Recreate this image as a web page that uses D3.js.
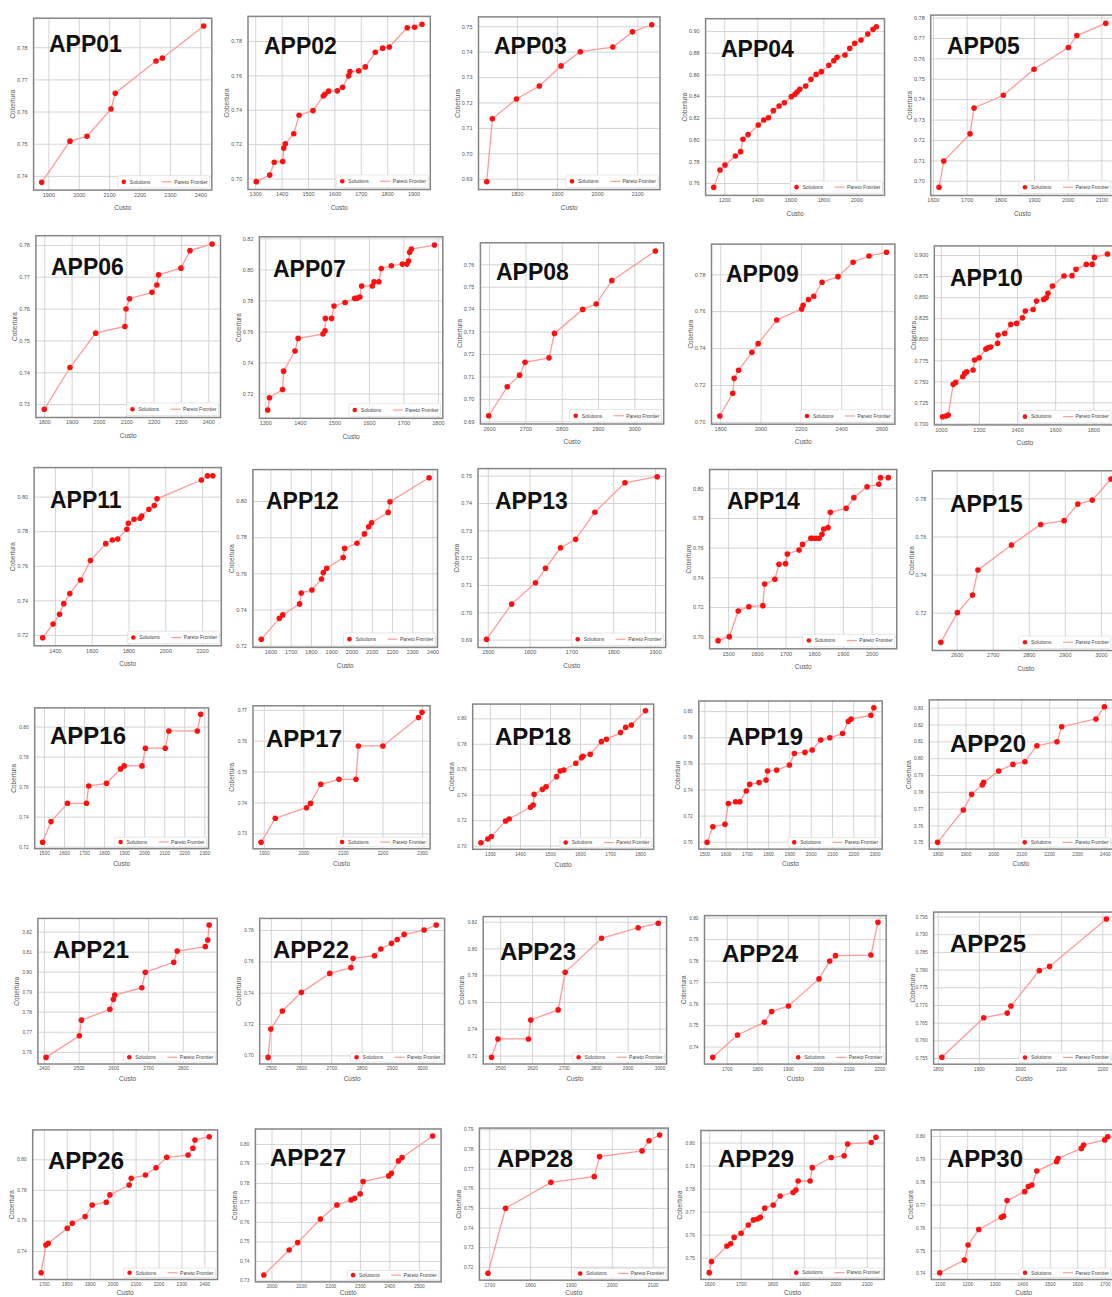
<!DOCTYPE html>
<html>
<head>
<meta charset="utf-8">
<script src="https://cdn.jsdelivr.net/npm/d3@7"></script>
<style>
  body { margin: 0; background: #ffffff; }
  svg { display: block; }
</style>
</head>
<body>
<svg id="chart" width="1112" height="1297"></svg>
<script>
// ---- Data: one Pareto front per application (Custo vs Cobertura) ----
const panelNames = [
  "APP01","APP02","APP03","APP04","APP05","APP06","APP07","APP08","APP09","APP10",
  "APP11","APP12","APP13","APP14","APP15","APP16","APP17","APP18","APP19","APP20",
  "APP21","APP22","APP23","APP24","APP25","APP26","APP27","APP28","APP29","APP30"
];

const custoValues = [
  [1878,1971,2027,2106,2120,2254,2275,2411],
  [1304,1355,1372,1404,1408,1414,1446,1466,1519,1558,1564,1578,1611,1631,1654,1659,1692,1717,1755,1783,1808,1876,1904,1932],
  [1725,1739,1799,1856,1910,1958,2039,2088,2136],
  [1136,1174,1204,1267,1299,1313,1344,1406,1439,1467,1497,1532,1564,1606,1628,1641,1657,1693,1725,1756,1788,1833,1863,1883,1931,1960,1990,2028,2069,2101,2121],
  [1618,1632,1710,1722,1809,1900,2002,2027,2113],
  [1800,1894,1988,2095,2099,2112,2194,2212,2218,2300,2333,2414],
  [1307,1312,1350,1353,1386,1395,1467,1473,1474,1492,1499,1531,1559,1567,1574,1579,1610,1615,1629,1636,1665,1697,1710,1715,1718,1723,1790],
  [2599,2650,2684,2699,2765,2780,2858,2895,2938,3058],
  [1798,1862,1869,1891,1957,1988,2080,2204,2211,2238,2264,2305,2384,2459,2538,2625],
  [1009,1028,1039,1065,1078,1115,1125,1136,1169,1177,1201,1236,1247,1261,1298,1300,1335,1367,1398,1428,1443,1484,1502,1540,1553,1562,1586,1646,1688,1709,1763,1794,1806,1874],
  [1333,1390,1425,1448,1481,1539,1593,1676,1712,1741,1791,1799,1830,1863,1872,1911,1940,1955,2196,2229,2258],
  [1555,1644,1661,1744,1752,1805,1852,1861,1878,1959,1966,2027,2064,2085,2099,2181,2190,2383],
  [1497,1557,1614,1638,1674,1710,1756,1828,1905],
  [1465,1504,1535,1572,1621,1627,1663,1677,1700,1706,1747,1759,1788,1794,1806,1817,1827,1833,1848,1856,1911,1938,1984,2025,2031,2058],
  [2556,2602,2644,2659,2752,2833,2898,2936,2976,3028],
  [1493,1535,1617,1712,1723,1812,1882,1900,1989,2006,2105,2123,2265,2282],
  [1893,1929,2008,2018,2044,2090,2133,2139,2201,2291,2300],
  [1270,1293,1305,1352,1364,1435,1444,1447,1475,1487,1522,1534,1546,1586,1605,1610,1634,1671,1688,1735,1752,1771,1818],
  [1513,1540,1597,1613,1647,1667,1697,1713,1757,1790,1797,1840,1900,1923,1973,2007,2047,2090,2150,2177,2190,2283,2297],
  [1800,1892,1922,1960,1965,2019,2070,2113,2156,2228,2245,2368,2398],
  [2406,2502,2508,2590,2600,2604,2682,2692,2774,2784,2865,2872,2876],
  [2491,2500,2538,2601,2695,2765,2772,2843,2864,2899,2918,2941,3007,3047],
  [2473,2493,2589,2596,2682,2704,2818,2933,2996],
  [1654,1735,1823,1847,1902,2002,2037,2056,2172,2195],
  [1810,1912,1969,1978,2047,2072,2210],
  [1688,1709,1719,1802,1824,1880,1911,1972,1988,2072,2081,2143,2189,2236,2329,2350,2359,2421],
  [1974,2060,2089,2166,2222,2270,2282,2301,2311,2398,2407,2431,2443,2547],
  [1697,1740,1851,1957,1970,2074,2091,2117],
  [1600,1607,1656,1668,1679,1701,1724,1740,1753,1762,1776,1803,1825,1866,1875,1882,1920,1927,1987,2028,2039,2114,2129],
  [1100,1190,1203,1242,1324,1332,1345,1409,1422,1435,1453,1525,1530,1615,1623,1700,1711]
];

const coberturaValues = [
  [0.7380,0.7508,0.7523,0.7608,0.7657,0.7757,0.7766,0.7866],
  [0.6982,0.7020,0.7095,0.7099,0.7177,0.7202,0.7260,0.7368,0.7395,0.7480,0.7490,0.7508,0.7510,0.7531,0.7597,0.7622,0.7626,0.7649,0.7734,0.7758,0.7765,0.7877,0.7880,0.7897],
  [0.6888,0.7136,0.7214,0.7265,0.7344,0.7400,0.7418,0.7478,0.7506],
  [0.7560,0.7720,0.7766,0.7849,0.7889,0.8003,0.8046,0.8135,0.8181,0.8202,0.8267,0.8310,0.8340,0.8396,0.8417,0.8438,0.8463,0.8494,0.8555,0.8601,0.8626,0.8684,0.8727,0.8758,0.8779,0.8841,0.8887,0.8917,0.8973,0.9016,0.9040],
  [0.6968,0.7097,0.7230,0.7357,0.7419,0.7547,0.7653,0.7712,0.7772],
  [0.7284,0.7415,0.7523,0.7544,0.7599,0.7631,0.7651,0.7674,0.7706,0.7727,0.7782,0.7803],
  [0.7093,0.7172,0.7226,0.7344,0.7473,0.7555,0.7583,0.7604,0.7684,0.7684,0.7764,0.7787,0.7813,0.7815,0.7822,0.7893,0.7893,0.7920,0.7920,0.8006,0.8024,0.8034,0.8034,0.8054,0.8110,0.8131,0.8157],
  [0.6925,0.7054,0.7106,0.7163,0.7183,0.7292,0.7399,0.7423,0.7527,0.7659],
  [0.7032,0.7155,0.7236,0.7280,0.7377,0.7424,0.7552,0.7612,0.7632,0.7663,0.7681,0.7757,0.7787,0.7865,0.7899,0.7919],
  [0.7079,0.7087,0.7099,0.7464,0.7487,0.7555,0.7594,0.7614,0.7634,0.7753,0.7780,0.7883,0.7899,0.7907,0.7951,0.8050,0.8069,0.8176,0.8188,0.8255,0.8335,0.8354,0.8453,0.8473,0.8493,0.8545,0.8632,0.8751,0.8755,0.8830,0.8889,0.8889,0.8972,0.9012],
  [0.7184,0.7263,0.7319,0.7381,0.7439,0.7518,0.7630,0.7728,0.7749,0.7755,0.7811,0.7846,0.7869,0.7875,0.7888,0.7927,0.7948,0.7987,0.8096,0.8120,0.8121],
  [0.7235,0.7351,0.7370,0.7431,0.7491,0.7508,0.7569,0.7604,0.7628,0.7687,0.7738,0.7766,0.7818,0.7858,0.7880,0.7937,0.7996,0.8129],
  [0.6901,0.7030,0.7108,0.7161,0.7236,0.7267,0.7366,0.7474,0.7496],
  [0.6973,0.7000,0.7173,0.7202,0.7209,0.7355,0.7387,0.7488,0.7492,0.7557,0.7584,0.7622,0.7663,0.7663,0.7663,0.7663,0.7690,0.7726,0.7735,0.7838,0.7865,0.7937,0.8011,0.8027,0.8072,0.8072],
  [0.7044,0.7200,0.7292,0.7424,0.7555,0.7663,0.7683,0.7770,0.7791,0.7902],
  [0.7229,0.7367,0.7489,0.7489,0.7604,0.7622,0.7718,0.7738,0.7738,0.7856,0.7856,0.7971,0.7971,0.8082],
  [0.7271,0.7349,0.7383,0.7397,0.7459,0.7475,0.7475,0.7583,0.7583,0.7675,0.7692],
  [0.7023,0.7052,0.7071,0.7194,0.7209,0.7301,0.7319,0.7403,0.7442,0.7463,0.7542,0.7586,0.7594,0.7647,0.7691,0.7702,0.7717,0.7817,0.7835,0.7888,0.7929,0.7948,0.8060],
  [0.6995,0.7115,0.7133,0.7293,0.7306,0.7306,0.7388,0.7439,0.7454,0.7472,0.7541,0.7548,0.7587,0.7676,0.7684,0.7702,0.7778,0.7796,0.7829,0.7923,0.7939,0.7969,0.8026],
  [0.7500,0.7692,0.7785,0.7841,0.7856,0.7924,0.7963,0.7979,0.8074,0.8098,0.8187,0.8233,0.8306],
  [0.7572,0.7680,0.7758,0.7812,0.7862,0.7883,0.7920,0.7997,0.8047,0.8103,0.8125,0.8158,0.8233],
  [0.6987,0.7168,0.7283,0.7402,0.7523,0.7560,0.7619,0.7636,0.7679,0.7715,0.7740,0.7772,0.7800,0.7832],
  [0.7187,0.7324,0.7324,0.7466,0.7541,0.7822,0.8076,0.8155,0.8188],
  [0.7350,0.7454,0.7513,0.7563,0.7589,0.7715,0.7798,0.7823,0.7826,0.7978],
  [0.7552,0.7664,0.7677,0.7697,0.7797,0.7809,0.7943],
  [0.7258,0.7439,0.7450,0.7549,0.7581,0.7625,0.7701,0.7719,0.7767,0.7832,0.7876,0.7897,0.7945,0.8013,0.8028,0.8072,0.8126,0.8148],
  [0.7328,0.7456,0.7494,0.7615,0.7687,0.7713,0.7721,0.7744,0.7807,0.7836,0.7850,0.7913,0.7930,0.8041],
  [0.7167,0.7498,0.7630,0.7659,0.7761,0.7790,0.7842,0.7871],
  [0.7435,0.7483,0.7551,0.7560,0.7588,0.7606,0.7642,0.7664,0.7668,0.7675,0.7715,0.7729,0.7768,0.7783,0.7794,0.7833,0.7833,0.7891,0.7935,0.7943,0.7994,0.8000,0.8023],
  [0.7403,0.7458,0.7524,0.7592,0.7645,0.7650,0.7718,0.7757,0.7779,0.7786,0.7847,0.7888,0.7902,0.7946,0.7961,0.7983,0.7997]
];

// Tick labels of each panel (Custo on x, Cobertura on y)
const custoTicks = [
  [1900,2000,2100,2200,2300,2400],
  [1300,1400,1500,1600,1700,1800,1900],
  [1800,1900,2000,2100],
  [1200,1400,1600,1800,2000],
  [1600,1700,1800,1900,2000,2100],
  [1800,1900,2000,2100,2200,2300,2400],
  [1300,1400,1500,1600,1700,1800],
  [2600,2700,2800,2900,3000],
  [1800,2000,2200,2400,2600],
  [1000,1200,1400,1600,1800],
  [1400,1600,1800,2000,2200],
  [1600,1700,1800,1900,2000,2100,2200,2300,2400],
  [1500,1600,1700,1800,1900],
  [1500,1600,1700,1800,1900,2000],
  [2600,2700,2800,2900,3000],
  [1500,1600,1700,1800,1900,2000,2100,2200,2300],
  [1900,2000,2100,2200,2300],
  [1300,1400,1500,1600,1700,1800],
  [1500,1600,1700,1800,1900,2000,2100,2200,2300],
  [1800,1900,2000,2100,2200,2300,2400],
  [2400,2500,2600,2700,2800],
  [2500,2600,2700,2800,2900,3000],
  [2500,2600,2700,2800,2900,3000],
  [1700,1800,1900,2000,2100,2200],
  [1800,1900,2000,2100,2200],
  [1700,1800,1900,2000,2100,2200,2300,2400],
  [2000,2100,2200,2300,2400,2500],
  [1700,1800,1900,2000,2100],
  [1600,1700,1800,1900,2000,2100],
  [1100,1200,1300,1400,1500,1600,1700]
];

const coberturaTicks = [
  ["0.74","0.75","0.76","0.77","0.78"],
  ["0.70","0.72","0.74","0.76","0.78"],
  ["0.69","0.70","0.71","0.72","0.73","0.74","0.75"],
  ["0.76","0.78","0.80","0.82","0.84","0.86","0.88","0.90"],
  ["0.70","0.71","0.72","0.73","0.74","0.75","0.76","0.77","0.78"],
  ["0.73","0.74","0.75","0.76","0.77","0.78"],
  ["0.72","0.74","0.76","0.78","0.80","0.82"],
  ["0.69","0.70","0.71","0.72","0.73","0.74","0.75","0.76"],
  ["0.70","0.72","0.74","0.76","0.78"],
  ["0.700","0.725","0.750","0.775","0.800","0.825","0.850","0.875","0.900"],
  ["0.72","0.74","0.76","0.78","0.80"],
  ["0.72","0.74","0.76","0.78","0.80"],
  ["0.69","0.70","0.71","0.72","0.73","0.74","0.75"],
  ["0.70","0.72","0.74","0.76","0.78","0.80"],
  ["0.70","0.72","0.74","0.76","0.78"],
  ["0.72","0.74","0.76","0.78","0.80"],
  ["0.73","0.74","0.75","0.76","0.77"],
  ["0.70","0.72","0.74","0.76","0.78","0.80"],
  ["0.70","0.72","0.74","0.76","0.78","0.80"],
  ["0.75","0.76","0.77","0.78","0.79","0.80","0.81","0.82","0.83"],
  ["0.76","0.77","0.78","0.79","0.80","0.81","0.82"],
  ["0.70","0.72","0.74","0.76","0.78"],
  ["0.72","0.74","0.76","0.78","0.80","0.82"],
  ["0.74","0.75","0.76","0.77","0.78","0.79","0.80"],
  ["0.755","0.760","0.765","0.770","0.775","0.780","0.785","0.790","0.795"],
  ["0.72","0.74","0.76","0.78","0.80"],
  ["0.73","0.74","0.75","0.76","0.77","0.78","0.79","0.80"],
  ["0.72","0.73","0.74","0.75","0.76","0.77","0.78","0.79"],
  ["0.74","0.75","0.76","0.77","0.78","0.79","0.80"],
  ["0.74","0.75","0.76","0.77","0.78","0.79","0.80"]
];

const legendLabels = ["Solutions", "Pareto Frontier"];
const axisTitles = ["Custo", "Cobertura"];

// ---- Layout: plot frame [left, top, width, height] and title anchor [x, baseline] per panel ----
const panelFrames = [
  [33.6,18.2,178.2,171.9],[248,16.4,182.3,173.1],[478.5,16.9,181.5,172.7],[705.6,18.7,178.9,176.7],[930.7,15.1,183.4,180.4],
  [35.9,235.7,184.6,181.8],[259.4,236.8,183.4,181.5],[480.4,242.8,183.3,181.2],[711.5,244.1,183.4,180.1],[934.3,245.9,181.4,179],
  [34.1,467.6,187.2,178.2],[252.9,469.6,184.6,177.8],[478,468.6,187.7,178.9],[709.6,469.5,187.2,179.3],[932.3,470.8,187.2,179.7],
  [34.7,707.9,173.9,140.8],[253,705.8,177.1,143],[472.7,704.1,181,145.2],[698.8,701,183.4,148.1],[929.3,699.9,183.4,149.2],
  [37.9,918.4,179.4,145.6],[259.7,918.4,184.9,145.6],[483.2,916.6,183.4,147.4],[704.5,915.6,181.7,148.5],[933.6,912.1,181,152.1],
  [32.7,1129.9,184.9,149.6],[255.4,1129,185.7,152.9],[479.4,1128.1,188.8,152.1],[700.9,1130.5,183.4,148.9],[931.3,1129.9,184.9,149.6]
];
const titleAnchors = [
  [49,52],[264,54],[494,54],[721,57],[947,54],
  [51,275],[273,277],[496,280],[726,282],[950,286],
  [50,508],[266,509],[495,509],[727,509],[950,512],
  [50,744],[266,747],[495,745],[727,745],[950,752],
  [53,958],[273,958],[500,960],[722,962],[950,952],
  [48,1169],[270,1166],[497,1167],[718,1167],[947,1167]
];

const canvasWidth = 1112, canvasHeight = 1297;
const svg = d3.select("#chart");
const smallFont = "'Liberation Sans', Arial, sans-serif";
const lineColor = "#ff9a9a";
const pointColor = "#ff1010";

function padded(values) {
  const [lo, hi] = d3.extent(values);
  const m = (hi - lo) * 0.05;
  return [lo - m, hi + m];
}

panelNames.forEach((name, i) => {
  const [L, T, W, H] = panelFrames[i];
  const xv = custoValues[i];
  const yv = coberturaValues[i];
  const pts = xv.map((c, j) => [c, yv[j]]);
  const squashed = H < 160;
  const tickSize = squashed ? 4.8 : 5.5;

  const x = d3.scaleLinear().domain(padded(xv)).range([0, W]);
  const y = d3.scaleLinear().domain(padded(yv)).range([H, 0]);
  const [x0, x1] = x.domain();
  const [y0, y1] = y.domain();
  const xt = custoTicks[i].filter(v => v >= x0 && v <= x1);
  const yt = coberturaTicks[i].filter(s => +s >= y0 && +s <= y1);

  const g = svg.append("g").attr("transform", `translate(${L},${T})`);
  g.append("rect").attr("width", W).attr("height", H).attr("fill", "#fff");

  // grid + tick labels
  const xa = g.append("g")
    .attr("transform", `translate(0,${H})`)
    .call(d3.axisBottom(x).tickValues(xt).tickSize(-H).tickPadding(3).tickFormat(d3.format("d")));
  const ya = g.append("g")
    .call(d3.axisLeft(y).tickValues(yt.map(Number)).tickSize(-W).tickPadding(6)
      .tickFormat(d => yt.find(s => +s === d)));
  [xa, ya].forEach(a => {
    a.select(".domain").remove();
    a.selectAll(".tick line").attr("stroke", "#cfcfcf").attr("stroke-width", 0.9);
    a.selectAll(".tick text")
      .attr("font-family", smallFont)
      .attr("font-size", tickSize)
      .attr("fill", "#555");
  });

  // frame
  g.append("rect")
    .attr("width", W).attr("height", H)
    .attr("fill", "none").attr("stroke", "#858585").attr("stroke-width", 1.5);

  // Pareto frontier line and solutions
  const line = d3.line().x(d => x(d[0])).y(d => y(d[1]));
  g.append("path").datum(pts)
    .attr("d", line)
    .attr("fill", "none")
    .attr("stroke", lineColor)
    .attr("stroke-width", 1.3);
  g.selectAll("circle.pt").data(pts).join("circle")
    .attr("class", "pt")
    .attr("cx", d => x(d[0]))
    .attr("cy", d => y(d[1]))
    .attr("r", 2.8)
    .attr("fill", pointColor);

  // legend, lower right (kept on the canvas when the frame runs past its edge)
  const lw = 92, lh = squashed ? 9.5 : 12.5;
  const lx = Math.min(W - 2, canvasWidth - 1 - L) - lw, ly = H - 2 - lh;
  const lg = g.append("g").attr("transform", `translate(${lx},${ly})`);
  lg.append("rect").attr("width", lw).attr("height", lh)
    .attr("fill", "#fff").attr("stroke", "#dcdcdc").attr("stroke-width", 0.7).attr("rx", 1.5);
  lg.append("circle").attr("cx", 6).attr("cy", lh / 2).attr("r", 2.3).attr("fill", pointColor);
  lg.append("text").attr("x", 12).attr("y", lh / 2).attr("dy", "0.35em")
    .attr("font-family", smallFont).attr("font-size", 5).attr("fill", "#444").text(legendLabels[0]);
  lg.append("line").attr("x1", 44).attr("x2", 54).attr("y1", lh / 2).attr("y2", lh / 2)
    .attr("stroke", lineColor).attr("stroke-width", 1.2);
  lg.append("text").attr("x", 56.5).attr("y", lh / 2).attr("dy", "0.35em")
    .attr("font-family", smallFont).attr("font-size", 5).attr("fill", "#444").text(legendLabels[1]);

  // axis titles
  const custoY = Math.min(H + (squashed ? 15 : 18), canvasHeight - 4 - T);
  g.append("text")
    .attr("x", W / 2).attr("y", custoY).attr("dy", "0.35em")
    .attr("text-anchor", "middle")
    .attr("font-family", smallFont).attr("font-size", 6.5).attr("fill", "#555")
    .text(axisTitles[0]);
  g.append("text")
    .attr("transform", `translate(-21,${H / 2}) rotate(-90)`)
    .attr("text-anchor", "middle").attr("dy", "0.35em")
    .attr("font-family", smallFont).attr("font-size", 6.5).attr("fill", "#555")
    .text(axisTitles[1]);

  // panel title
  const [tx, ty] = titleAnchors[i];
  svg.append("text")
    .attr("x", tx).attr("y", ty)
    .attr("font-family", "'Liberation Sans', Arial, sans-serif")
    .attr("font-weight", "bold")
    .attr("font-size", squashed ? 24 : 23)
    .attr("fill", "#111")
    .text(name);
});
</script>
</body>
</html>
